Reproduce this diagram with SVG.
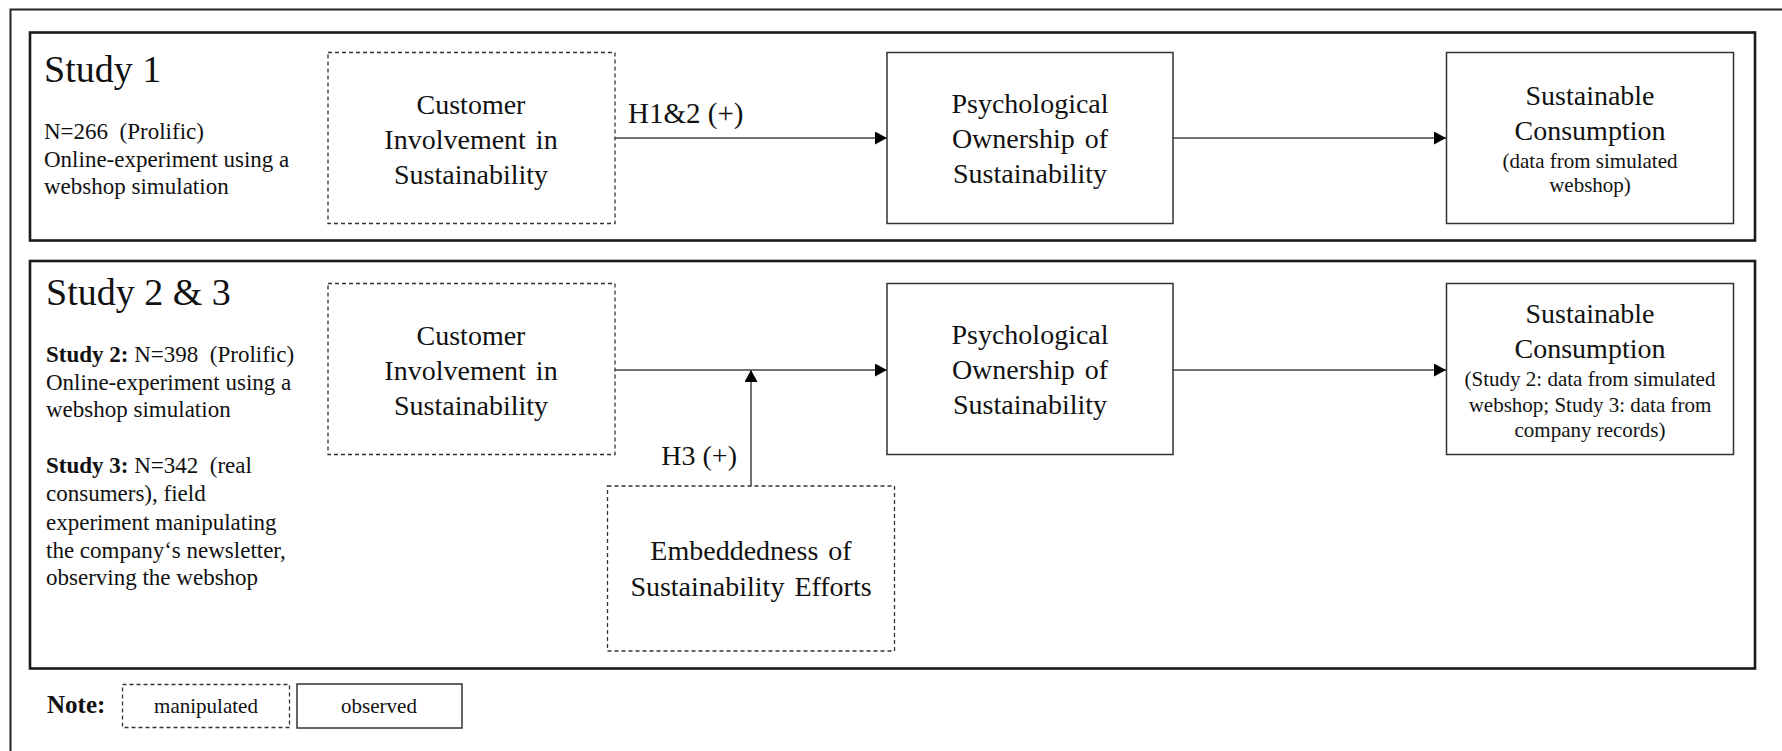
<svg xmlns="http://www.w3.org/2000/svg" width="1782" height="751" viewBox="0 0 1782 751">
  <style>
    text { font-family: "Liberation Serif", "Times New Roman", serif; fill: #111; }
    .head { font-size: 38px; }
    .body { font-size: 23px; }
    .lbl { font-size: 28px; }
    .node { font-size: 28px; text-anchor: middle; word-spacing: 3px; }
    .sub { font-size: 21px; text-anchor: middle; }
    .legend { font-size: 21px; text-anchor: middle; }
    .b { font-weight: bold; }
    .frame { fill: none; stroke: #222; stroke-width: 2; }
    .study { fill: none; stroke: #1a1a1a; stroke-width: 2.6; }
    .obs { fill: #fff; stroke: #333; stroke-width: 1.5; }
    .man { fill: #fff; stroke: #333; stroke-width: 1.3; stroke-dasharray: 4 3; }
    .edge { fill: none; stroke: #444; stroke-width: 1.5; }
  </style>
  <defs>
    <marker id="arrow" markerUnits="userSpaceOnUse" markerWidth="13" markerHeight="13" refX="12" refY="6.5" orient="auto">
      <path d="M0,0 L12,6.5 L0,13 Z" fill="#000"/>
    </marker>
  </defs>

  <rect width="1782" height="751" fill="#fff"/>

  <!-- outer frame (runs off the right and bottom edges) -->
  <path class="frame" d="M10.5,760 V9.5 H1790"/>

  <!-- study panels -->
  <g id="panel-study1">
    <rect class="study" x="30" y="32.5" width="1725" height="208"/>
    <text class="head" x="44" y="82">Study 1</text>
    <text class="body" x="44" y="139" xml:space="preserve">N=266  (Prolific)</text>
    <text class="body" x="44" y="167">Online-experiment using a</text>
    <text class="body" x="44" y="194">webshop simulation</text>
  </g>

  <g id="panel-study23">
    <rect class="study" x="30" y="261" width="1725" height="407.5"/>
    <text class="head" x="46" y="305">Study 2 &amp; 3</text>
    <text class="body" x="46" y="362" xml:space="preserve"><tspan class="b">Study 2:</tspan> N=398  (Prolific)</text>
    <text class="body" x="46" y="390">Online-experiment using a</text>
    <text class="body" x="46" y="417">webshop simulation</text>
    <text class="body" x="46" y="473" xml:space="preserve"><tspan class="b">Study 3:</tspan> N=342  (real</text>
    <text class="body" x="46" y="501">consumers), field</text>
    <text class="body" x="46" y="530">experiment manipulating</text>
    <text class="body" x="46" y="558">the company‘s newsletter,</text>
    <text class="body" x="46" y="585">observing the webshop</text>
  </g>

  <!-- connectors -->
  <g id="connectors">
    <line class="edge" x1="615" y1="138" x2="887" y2="138" marker-end="url(#arrow)"/>
    <text class="lbl" x="628" y="123" style="font-size:29px">H1&amp;2 (+)</text>
    <line class="edge" x1="1173" y1="138" x2="1446" y2="138" marker-end="url(#arrow)"/>

    <line class="edge" x1="615" y1="370" x2="887" y2="370" marker-end="url(#arrow)"/>
    <line class="edge" x1="751" y1="486" x2="751" y2="370" marker-end="url(#arrow)"/>
    <text class="lbl" x="737" y="465" text-anchor="end">H3 (+)</text>
    <line class="edge" x1="1173" y1="370" x2="1446" y2="370" marker-end="url(#arrow)"/>
  </g>

  <!-- Study 1 nodes -->
  <g id="s1-involvement">
    <rect class="man" x="328" y="52.5" width="287" height="171"/>
    <text class="node" x="471" y="114">Customer</text>
    <text class="node" x="471" y="149">Involvement in</text>
    <text class="node" x="471" y="184">Sustainability</text>
  </g>
  <g id="s1-ownership">
    <rect class="obs" x="887" y="52.5" width="286" height="171"/>
    <text class="node" x="1030" y="113">Psychological</text>
    <text class="node" x="1030" y="148">Ownership of</text>
    <text class="node" x="1030" y="183">Sustainability</text>
  </g>
  <g id="s1-consumption">
    <rect class="obs" x="1446.5" y="52.5" width="287" height="171"/>
    <text class="node" x="1590" y="105">Sustainable</text>
    <text class="node" x="1590" y="140">Consumption</text>
    <text class="sub" x="1590" y="168">(data from simulated</text>
    <text class="sub" x="1590" y="192">webshop)</text>
  </g>

  <!-- Study 2 & 3 nodes -->
  <g id="s23-involvement">
    <rect class="man" x="328" y="283.5" width="287" height="171"/>
    <text class="node" x="471" y="345">Customer</text>
    <text class="node" x="471" y="380">Involvement in</text>
    <text class="node" x="471" y="415">Sustainability</text>
  </g>
  <g id="s23-ownership">
    <rect class="obs" x="887" y="283.5" width="286" height="171"/>
    <text class="node" x="1030" y="344">Psychological</text>
    <text class="node" x="1030" y="379">Ownership of</text>
    <text class="node" x="1030" y="414">Sustainability</text>
  </g>
  <g id="s23-consumption">
    <rect class="obs" x="1446.5" y="283.5" width="287" height="171"/>
    <text class="node" x="1590" y="323">Sustainable</text>
    <text class="node" x="1590" y="358">Consumption</text>
    <text class="sub" x="1590" y="386">(Study 2: data from simulated</text>
    <text class="sub" x="1590" y="412">webshop; Study 3: data from</text>
    <text class="sub" x="1590" y="437">company records)</text>
  </g>
  <g id="s23-embeddedness">
    <rect class="man" x="607.5" y="486" width="287" height="165"/>
    <text class="node" x="751" y="560">Embeddedness of</text>
    <text class="node" x="751" y="596">Sustainability Efforts</text>
  </g>

  <!-- legend -->
  <g id="legend">
    <text class="b" x="47" y="713" style="font-size:25px">Note:</text>
    <rect class="man" x="122.5" y="684.5" width="167" height="43"/>
    <text class="legend" x="206" y="713">manipulated</text>
    <rect class="obs" x="297" y="684" width="165" height="44"/>
    <text class="legend" x="379" y="713">observed</text>
  </g>
</svg>
